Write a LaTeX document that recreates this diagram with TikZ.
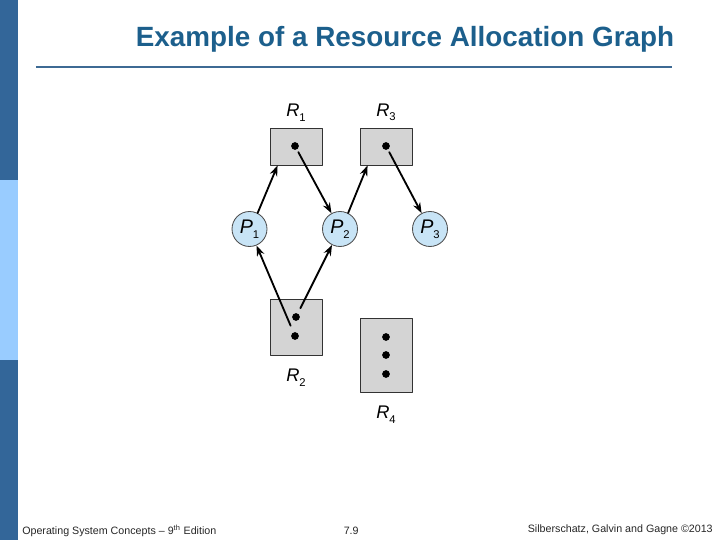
\documentclass[tikz,border=0pt]{standalone}
\usepackage{fontspec}
\setmainfont{Liberation Sans}
\usetikzlibrary{positioning,arrows.meta}
\definecolor{bardark}{RGB}{51,102,153}
\definecolor{barlight}{RGB}{153,204,255}
\definecolor{titleblue}{RGB}{28,95,140}
\definecolor{rulegray}{RGB}{61,106,148}
\definecolor{resgray}{RGB}{212,212,212}
\definecolor{procblue}{RGB}{200,228,246}
\newcommand{\vlab}[2]{\textit{#1}\raisebox{-0.45ex}{\footnotesize #2}}
\begin{document}
\begin{tikzpicture}[line cap=round,line join=round,
  res/.style={draw=black!80,fill=resgray,line width=0.6pt,minimum width=1.3cm,inner sep=0pt},
  proc/.style={circle,draw=black!70,fill=procblue,line width=0.6pt,minimum size=0.875cm,inner sep=0pt,font=\fontsize{14}{15}\selectfont},
  inst/.style={circle,fill=black,minimum size=5.5pt,inner sep=0pt},
  rlab/.style={font=\fontsize{13}{14}\selectfont,inner sep=1pt},
  edge/.style={line width=1.3pt,-{Stealth[length=7.5pt,width=5.5pt]}},
  foot/.style={font=\fontsize{7.6}{8}\selectfont,text=black!85,inner sep=0pt}]
  \useasboundingbox (0,0) rectangle (18,13.5);
  % side bar
  \fill[bardark] (0,0) rectangle (0.45,4.5);
  \fill[barlight] (0,4.5) rectangle (0.45,9);
  \fill[bardark] (0,9) rectangle (0.45,13.5);
  % heading
  \node[text=titleblue,font=\fontsize{19.8}{22}\selectfont\bfseries] (title) at (10.125,12.52) {Example of a Resource Allocation Graph};
  \draw[rulegray,line width=2.1pt,line cap=butt] (0.9,11.825) -- (16.8,11.825);
  % resources
  \node[res,minimum height=0.925cm] (R1) at (7.4,9.8375) {};
  \node[res,minimum height=0.925cm] (R3) at (9.65,9.8375) {};
  \node[res,minimum height=1.4cm] (R2) at (7.4,5.325) {};
  \node[res,minimum height=1.85cm] (R4) at (9.65,4.625) {};
  \node[rlab,above=0.12cm of R1] (lR1) {\vlab{R}{1}};
  \node[rlab,above=0.12cm of R3] (lR3) {\vlab{R}{3}};
  \node[rlab,below=0.3cm of R2] (lR2) {\vlab{R}{2}};
  \node[rlab,below=0.3cm of R4] (lR4) {\vlab{R}{4}};
  \node[inst] (r1a) at (7.375,9.85) {};
  \node[inst] (r3a) at (9.65,9.85) {};
  \node[inst] (r2a) at (7.4,5.575) {};
  \node[inst] (r2b) at (7.375,5.1) {};
  \node[inst] (r4a) at (9.65,5.075) {};
  \node[inst] (r4b) at (9.65,4.625) {};
  \node[inst] (r4c) at (9.65,4.15) {};
  % processes
  \node[proc] (P1) at (6.2375,7.775) {\vlab{P}{1}};
  \node[proc] (P2) at (8.5,7.775) {\vlab{P}{2}};
  \node[proc] (P3) at (10.75,7.775) {\vlab{P}{3}};
  % request and assignment edges
  \draw[edge] (P1.63) -- ([xshift=0.2cm]R1.south west);
  \draw[edge] (P2.63) -- ([xshift=0.2cm]R3.south west);
  \draw[edge,shorten <=2pt] (r1a) -- (P2);
  \draw[edge,shorten <=2pt] (r3a) -- (P3);
  \draw[edge,shorten <=5pt] (r2b) -- (P1);
  \draw[edge,shorten <=4pt] (r2a) -- (P2);
  % footer
  \node[foot,anchor=west] (fl) at (0.55,0.225) {Operating System Concepts -- 9\textsuperscript{th} Edition};
  \node[foot] (fc) at (8.78,0.225) {7.9};
  \node[foot,anchor=east] (fr) at (17.825,0.25) {Silberschatz, Galvin and Gagne \textcopyright 2013};
\end{tikzpicture}
\end{document}
